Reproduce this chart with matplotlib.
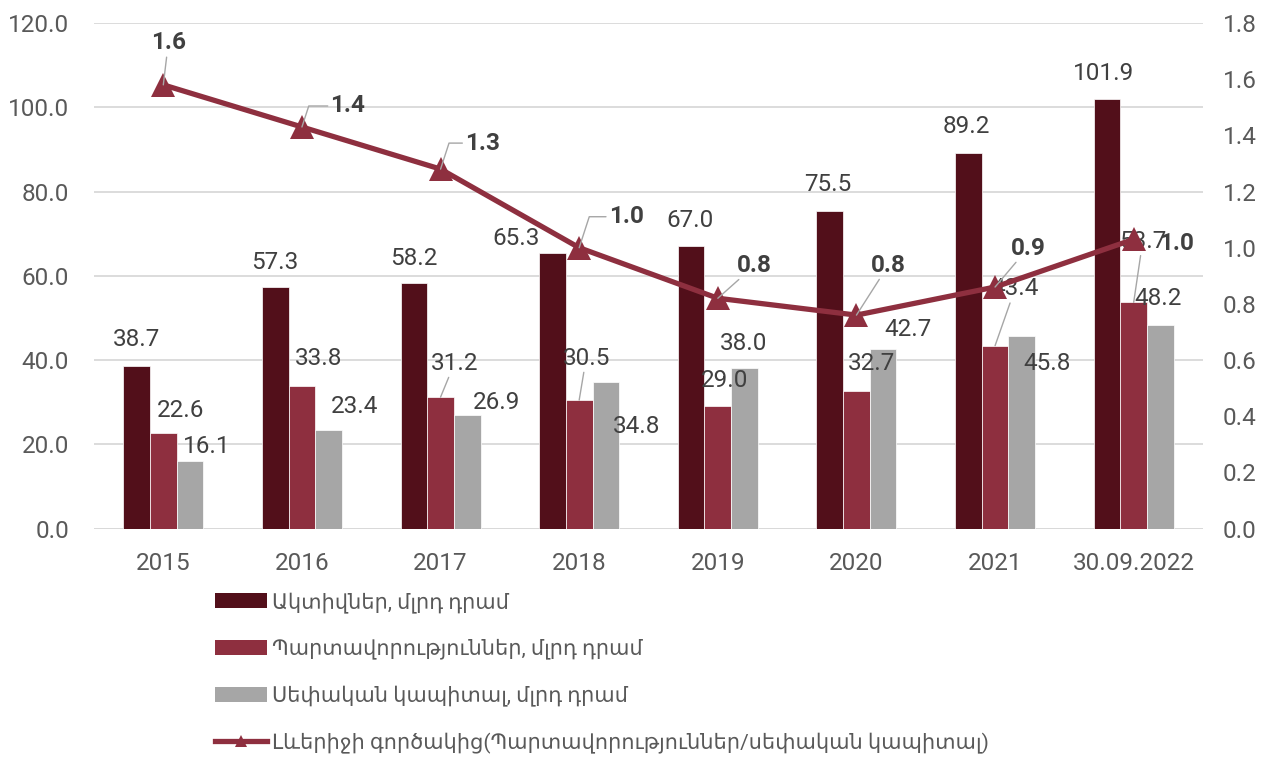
import matplotlib
matplotlib.use('Agg')
import matplotlib.pyplot as plt
from matplotlib.patches import Patch
from matplotlib.lines import Line2D
from matplotlib.ticker import MultipleLocator, FormatStrFormatter

plt.rcParams['font.family'] = ['Roboto', 'DejaVu Sans']

# data
years = ['2015', '2016', '2017', '2018', '2019', '2020', '2021', '30.09.2022']
assets = [38.7, 57.3, 58.2, 65.3, 67.0, 75.5, 89.2, 101.9]
liabilities = [22.6, 33.8, 31.2, 30.5, 29.0, 32.7, 43.4, 53.7]
equity = [16.1, 23.4, 26.9, 34.8, 38.0, 42.7, 45.8, 48.2]
leverage = [1.58, 1.43, 1.28, 1.00, 0.82, 0.76, 0.86, 1.03]

names = ['Ակտիվներ, մլրդ դրամ',
         'Պարտավորություններ, մլրդ դրամ',
         'Սեփական կապիտալ, մլրդ դրամ',
         'Լևերիջի գործակից(Պարտավորություններ/սեփական կապիտալ)']

# label offsets in pixels (dx, dy with y pointing down), as placed in the original
assets_off = [(0, -26), (0, -25), (0, -25), (-36, -15), (-1, -26), (-2, -26), (-2, -26), (-3, -26)]
liab_off = [(17, -23), (17, -28), (14, -34), (7, -42), (7, -26), (15, -27), (20, -57), (9, -61)]
liab_leader = [False, False, True, True, False, False, True, True]
equity_off = [(17, -14), (26, -23), (29, -13), (31, 45), (-1, -25), (25, -19), (25, 28), (-2, -27)]
lev_off = [(5, -42), (46, -21), (42, -26), (47, -31), (37, -33), (32, -50), (33, -39), (43, 4)]
lev_leader = ['straight', 'elbow', 'elbow', 'elbow', 'straight', 'straight', 'straight', None]

c_assets = '#520F1A'
c_liab = '#8E2F3F'
c_equity = '#A6A6A6'
c_text = '#404040'
c_tick = '#595959'
c_grid = '#D9D9D9'
c_leader = '#A6A6A6'

fs = 17.5

fig = plt.figure(figsize=(12.78, 7.58), dpi=100)
ax = fig.add_axes([94 / 1278, 229.5 / 758, 1109 / 1278, 505.4 / 758])

x = list(range(len(years)))
w = 0.1925
b1 = ax.bar([i - w for i in x], assets, w, color=c_assets, edgecolor='white', linewidth=0.5, zorder=2)
b2 = ax.bar(x, liabilities, w, color=c_liab, edgecolor='white', linewidth=0.5, zorder=2)
b3 = ax.bar([i + w for i in x], equity, w, color=c_equity, edgecolor='white', linewidth=0.5, zorder=2)

ax.set_xlim(-0.5, len(years) - 0.5)
ax.set_ylim(0, 120)
ax.yaxis.set_major_locator(MultipleLocator(20))
ax.yaxis.set_major_formatter(FormatStrFormatter('%.1f'))
ax.set_xticks(x)
ax.set_xticklabels(years)
ax.grid(axis='y', color=c_grid, linewidth=1.3, zorder=0)
ax.set_axisbelow(True)
for s in ax.spines.values():
    s.set_visible(False)
ax.axhline(0, color=c_grid, linewidth=1.8, zorder=1)
ax.tick_params(axis='both', length=0, labelsize=fs, labelcolor=c_tick)
ax.tick_params(axis='y', pad=18)
ax.tick_params(axis='x', pad=17)


def label_bars(xs, vals, offs, leaders=None):
    for k, (xi, v) in enumerate(zip(xs, vals)):
        dx, dy = offs[k]
        props = None
        if leaders and leaders[k]:
            props = dict(arrowstyle='-', color=c_leader, lw=1, shrinkA=0, shrinkB=0)
        ax.annotate('%.1f' % v, (xi, v), xytext=(dx, -dy), textcoords='offset pixels',
                    ha='center', va='center', fontsize=fs, color=c_text,
                    arrowprops=props, zorder=4)


label_bars([i - w for i in x], assets, assets_off)
label_bars(x, liabilities, liab_off, liab_leader)
label_bars([i + w for i in x], equity, equity_off)

# leverage line on the secondary axis
ax2 = ax.twinx()
ax2.plot(x, leverage, color=c_liab, linewidth=3.8, marker='^', markersize=17,
         markeredgewidth=0, zorder=3)
ax2.set_ylim(0, 1.8)
ax2.yaxis.set_major_locator(MultipleLocator(0.2))
ax2.yaxis.set_major_formatter(FormatStrFormatter('%.1f'))
for s in ax2.spines.values():
    s.set_visible(False)
ax2.tick_params(axis='y', length=0, labelsize=fs, labelcolor=c_tick, pad=14)

for k, v in enumerate(leverage):
    dx, dy = lev_off[k]
    kind = lev_leader[k]
    props = None
    if kind == 'straight':
        props = dict(arrowstyle='-', color=c_leader, lw=1, shrinkA=0, shrinkB=0)
    elif kind == 'elbow':
        props = dict(arrowstyle='-', color=c_leader, lw=1, shrinkA=0, shrinkB=0,
                     relpos=(0, 0.5), connectionstyle='angle,angleA=0,angleB=72,rad=0')
    ax2.annotate('%.1f' % v, (k, v), xytext=(dx, -dy), textcoords='offset pixels',
                 ha='center', va='center', fontsize=fs, fontweight='bold', color=c_text,
                 arrowprops=props, zorder=5)

# legend below the plot, one entry per row
handles = [Patch(facecolor=c_assets), Patch(facecolor=c_liab), Patch(facecolor=c_equity),
           Line2D([], [], color=c_liab, linewidth=3.8, marker='^', markersize=9, markeredgewidth=0)]
fig.legend(handles, names, loc='upper left', bbox_to_anchor=(215 / 1278, 0.2195),
           frameon=False, fontsize=15, labelcolor=c_tick, handlelength=2.5, handleheight=0.72,
           handletextpad=0.25, labelspacing=1.25, borderpad=0, borderaxespad=0)

fig.savefig('out.png', dpi=100)
